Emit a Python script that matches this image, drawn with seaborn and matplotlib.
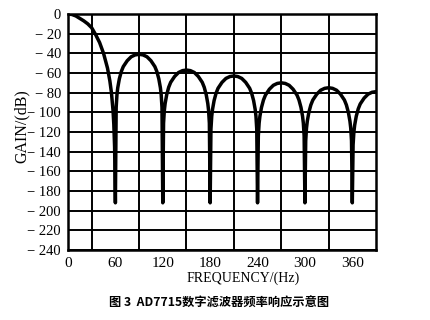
import matplotlib
matplotlib.use("Agg")
import matplotlib.pyplot as plt
import seaborn as sns
import pandas as pd

# ---- data ----
freq_main = [0, 5, 10, 15, 20, 25, 30, 35, 40, 45, 50, 53, 55, 57, 58, 59, 60]
gain_main = [0, -0.5, -2, -4.5, -7, -10, -14, -21, -29, -40, -55, -68, -80, -98, -112, -135, -192]

freq_lobe1 = [61, 62, 63, 65, 67.5, 70, 75, 80, 85, 90, 95, 100, 105, 110, 112.5, 115, 117, 118, 119, 120]
gain_lobe1 = [-95, -82, -75, -66, -58.5, -53.5, -47.5, -43.5, -41.6, -41, -41.6, -43.5, -47.5, -53.5, -58.5, -66, -75, -82, -95, -192]

freq_lobe2 = [121, 122, 123, 125, 127.5, 130, 135, 140, 145, 150, 155, 160, 165, 170, 172.5, 175, 177, 178, 179, 180]
gain_lobe2 = [-111, -98, -91, -82, -74.5, -69.5, -63.5, -59.5, -57.6, -57, -57.6, -59.5, -63.5, -69.5, -74.5, -82, -91, -98, -111, -192]

freq_lobe3 = [181, 182, 183, 185, 187.5, 190, 195, 200, 205, 210, 215, 220, 225, 230, 232.5, 235, 237, 238, 239, 240]
gain_lobe3 = [-117, -104, -97, -88, -80.5, -75.5, -69.5, -65.5, -63.6, -63, -63.6, -65.5, -69.5, -75.5, -80.5, -88, -97, -104, -117, -192]

freq_lobe4 = [241, 242, 243, 245, 247.5, 250, 255, 260, 265, 270, 275, 280, 285, 290, 292.5, 295, 297, 298, 299, 300]
gain_lobe4 = [-124, -111, -104, -95, -87.5, -82.5, -76.5, -72.5, -70.6, -70, -70.6, -72.5, -76.5, -82.5, -87.5, -95, -104, -111, -124, -192]

freq_lobe5 = [301, 302, 303, 305, 307.5, 310, 315, 320, 325, 330, 335, 340, 345, 350, 352.5, 355, 357, 358, 359, 360]
gain_lobe5 = [-129, -116, -109, -100, -92.5, -87.5, -81.5, -77.5, -75.6, -75, -75.6, -77.5, -81.5, -87.5, -92.5, -100, -109, -116, -129, -192]

freq_lobe6 = [361, 362, 363, 365, 367.5, 370, 375, 380, 385, 390]
gain_lobe6 = [-133, -120, -113, -104, -96.5, -91.5, -85.5, -81.5, -79.6, -79]

x_ticks = [0, 60, 120, 180, 240, 300, 360]
x_grid = [30, 90, 150, 210, 270, 330]
y_ticks = [0, -20, -40, -60, -80, -100, -120, -140, -160, -180, -200, -220, -240]
y_labels = ["0"] + ["\u2212 " + str(-v) for v in y_ticks[1:]]

x_label = "FREQUENCY/(Hz)"
y_label = "GAIN/(dB)"
caption = "图 3  AD7715数字滤波器频率响应示意图"

freq = (freq_main + freq_lobe1 + freq_lobe2 + freq_lobe3 +
        freq_lobe4 + freq_lobe5 + freq_lobe6)
gain = (gain_main + gain_lobe1 + gain_lobe2 + gain_lobe3 +
        gain_lobe4 + gain_lobe5 + gain_lobe6)
df = pd.DataFrame({"freq": freq, "gain": gain})

# ---- figure ----
sns.set_style("white")
plt.rcParams["font.family"] = ["Liberation Serif", "DejaVu Serif"]

fig = plt.figure(figsize=(4.3, 3.2), dpi=100)
ax = fig.add_axes([68 / 430, 1 - 250 / 320, (376 - 68) / 430, (250 - 14) / 320])

sns.lineplot(data=df, x="freq", y="gain", color="black", linewidth=2.5,
             estimator=None, sort=False, ax=ax)

ax.set_xlim(0, 390)
ax.set_ylim(-240, 0)

ax.set_xticks(x_ticks)
ax.set_xticklabels([str(v) for v in x_ticks], fontsize=11)
ax.set_xticks(x_grid, minor=True)
ax.set_yticks(y_ticks)
ax.set_yticklabels(y_labels, fontsize=10.5)

ax.grid(False)
ax.grid(True, which="minor", axis="x", color="black", linewidth=1.4)
ax.grid(True, which="major", axis="y", color="black", linewidth=1.4)

ax.tick_params(axis="x", which="major", direction="in", length=4, width=1.5,
               pad=5, colors="black", labelcolor="black")
ax.tick_params(axis="x", which="minor", length=0)
ax.tick_params(axis="y", which="major", length=0, pad=5, labelcolor="black")

for s in ax.spines.values():
    s.set_visible(True)
    s.set_color("black")
    s.set_linewidth(1.8)

ax.set_xlabel("")
ax.set_ylabel("")
fig.text(243 / 430, 1 - 278 / 320, x_label, ha="center", va="center",
         fontsize=10, color="black")
fig.text(22 / 430, 1 - 126 / 320, y_label, ha="center", va="center",
         rotation=90, fontsize=11.5, color="black")
fig.text(219 / 430, 1 - 303 / 320, caption, ha="center", va="center",
         fontsize=8.8, fontweight="bold", color="black",
         family=["Noto Sans CJK SC", "DejaVu Sans"])

fig.savefig("out.png", dpi=100)
